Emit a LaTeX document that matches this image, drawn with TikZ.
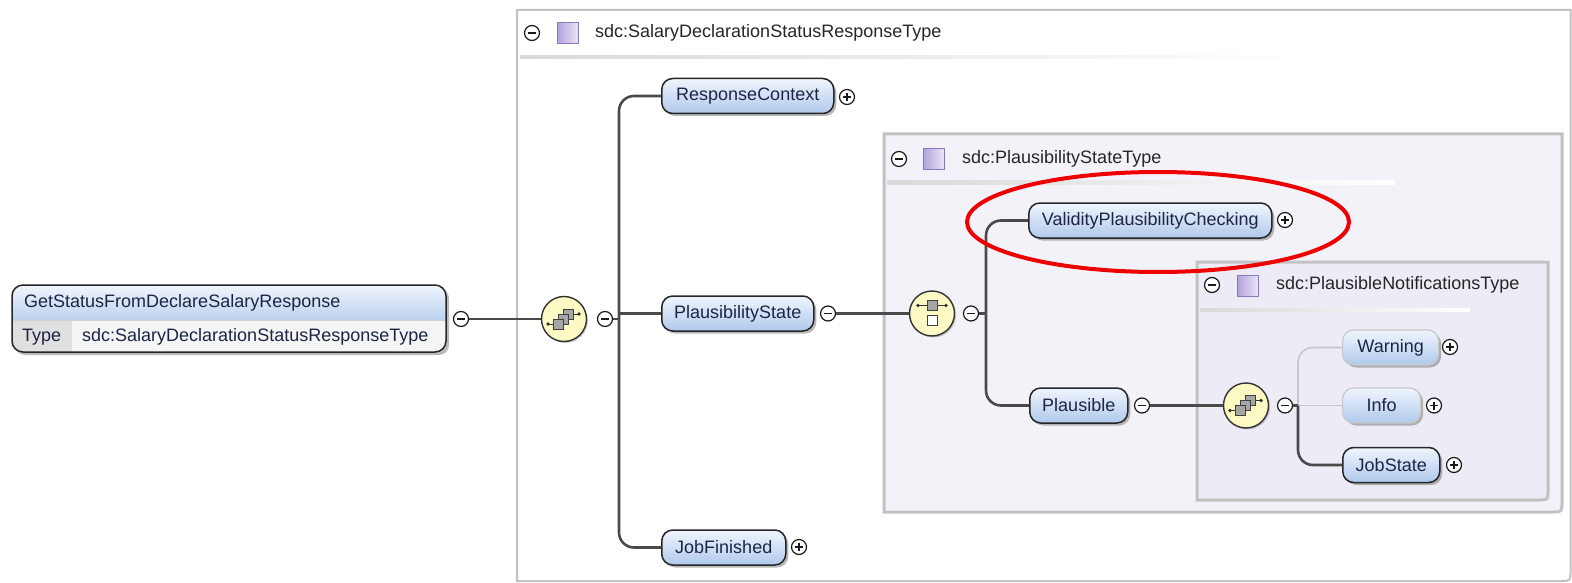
\documentclass[tikz,border=0pt]{standalone}
\usepackage{fontspec}
\setmainfont{Liberation Sans}
\usetikzlibrary{shadows}
\definecolor{boxA}{HTML}{F0F5FD}
\definecolor{boxB}{HTML}{B0C9EC}
\definecolor{txt}{HTML}{1E2544}
\definecolor{lnk}{HTML}{4A4A4A}
\definecolor{opt}{HTML}{C8C8C8}
\definecolor{midfill}{HTML}{F4F2F9}
\definecolor{infill}{HTML}{EDEBF5}
\definecolor{frame}{HTML}{C2C2C2}
\definecolor{seqfill}{HTML}{FCF9C4}
\definecolor{purA}{HTML}{EAE4F8}
\definecolor{purB}{HTML}{B2A2DA}
\definecolor{purD}{HTML}{8A78BE}
\definecolor{ring}{HTML}{EE0000}
\tikzset{
  lbl/.style={font=\fontsize{18}{21}\selectfont, text=txt, inner sep=0pt},
  elem/.style={lbl, rounded corners=11pt, draw=black!85, line width=1.5pt,
    top color=boxA, bottom color=boxB, minimum height=35pt,
    drop shadow={shadow xshift=2.5pt, shadow yshift=-2.5pt, fill=black!55, opacity=0.5}},
  optelem/.style={elem, draw=opt, line width=1.2pt},
  pm/.style={circle, draw=black!90, fill=white, line width=1.2pt, minimum size=15pt, inner sep=0pt},
  minusc/.style={pm, path picture={\draw[line width=1.2pt]
      ([xshift=-4pt]path picture bounding box.center) -- ([xshift=4pt]path picture bounding box.center);}},
  plusc/.style={pm, path picture={\draw[line width=1.2pt]
      ([xshift=-4pt]path picture bounding box.center) -- ([xshift=4pt]path picture bounding box.center);
      \draw[line width=1.2pt]
      ([yshift=-4pt]path picture bounding box.center) -- ([yshift=4pt]path picture bounding box.center);}},
  grp/.style={circle, draw=black!80, fill=seqfill, line width=1.4pt, minimum size=45pt, inner sep=0pt,
    drop shadow={shadow xshift=1.5pt, shadow yshift=-1.5pt, fill=black!50, opacity=0.4}},
  conn/.style={draw=lnk, line width=2.6pt, rounded corners=15pt},
  optconn/.style={draw=opt, line width=1.6pt, rounded corners=15pt},
  frm/.style={draw=frame, line width=3pt},
  sq/.style={left color=purB, right color=purA, draw=purD, line width=1pt},
  sepline/.style={left color=black!15, right color=white, draw=none},
  seqglyph/.pic={
    \draw[line width=0.9pt, black!80] (-16,5) -- (-10,5);
    \fill[black!80] (-16,5) circle (1.8pt);
    \draw[line width=0.9pt, black!80] (9,-5) -- (15,-5);
    \fill[black!80] (15,-5) circle (1.8pt);
    \filldraw[fill=black!35, draw=black!75, line width=0.7pt] (-1,-10) rectangle (9,0);
    \filldraw[fill=black!35, draw=black!75, line width=0.7pt] (-6,-5) rectangle (4,5);
    \filldraw[fill=black!35, draw=black!75, line width=0.7pt] (-11,0) rectangle (-1,10);
  },
  choiceglyph/.pic={
    \draw[line width=0.9pt, black!80] (-14,-8) -- (14,-8);
    \fill[black!80] (-14,-8) circle (1.8pt);
    \fill[black!80] (14,-8) circle (1.8pt);
    \filldraw[fill=black!35, draw=black!75, line width=0.7pt] (-5,-13) rectangle (5,-3);
    \filldraw[fill=white, draw=black!75, line width=0.7pt] (-5,2) rectangle (5,12);
  }
}
\begin{document}
\begin{tikzpicture}[x=1pt,y=-1pt]
\useasboundingbox (0,0) rectangle (1572,583);
\fill[white] (0,0) rectangle (1572,583);

% frames
\draw[draw=frame, line width=2pt, fill=white]
  (517,10) -- (1570.5,10) -- (1570.5,571) .. controls (1570.5,581) .. (1560.5,581) -- (517,581) -- cycle;
\draw[frm, fill=midfill]
  (884,134) -- (1562,134) -- (1562,502) .. controls (1562,512) .. (1552,512) -- (884,512) -- cycle;
\draw[frm, fill=infill]
  (1197,262) -- (1548,262) -- (1548,490) .. controls (1548,500) .. (1538,500) -- (1197,500) -- cycle;

% headers
\node[minusc] (h1m) at (532,33) {};
\draw[sq] (557,23) rectangle (578,44);
\node[lbl, anchor=west, text=black!85] (h1) at (595,33) {sdc:SalaryDeclarationStatusResponseType};
\shade[sepline] (520,56) rectangle (1310,59);

\node[minusc] (h2m) at (899,159) {};
\draw[sq] (923,149) rectangle (944,170);
\node[lbl, anchor=west, text=black!85] (h2) at (962,159) {sdc:PlausibilityStateType};
\shade[sepline] (887,181) rectangle (1395,184);

\node[minusc] (h3m) at (1212,285) {};
\draw[sq] (1237,275) rectangle (1258,296);
\node[lbl, anchor=west, text=black!85] (h3) at (1276,285) {sdc:PlausibleNotificationsType};
\shade[sepline] (1200,308) rectangle (1470,311);

% root element
\fill[black!45, opacity=0.6, rounded corners=10pt] (15,288) rectangle (449,355);
\begin{scope}
  \clip[rounded corners=11pt] (12,285) rectangle (446,352);
  \shade[top color=boxA, bottom color=boxB!85] (12,285) rectangle (446,320);
  \fill[black!4] (12,320) rectangle (446,352);
  \fill[black!12] (12,320) rectangle (72,352);
\end{scope}
\draw[black!18, line width=0.8pt] (12,320) -- (446,320);
\draw[black!85, line width=1.5pt, rounded corners=11pt] (12,285) rectangle (446,352);
\node[lbl, anchor=west] (root) at (24,303) {GetStatusFromDeclareSalaryResponse};
\node[lbl, anchor=west] (rtype) at (22,337) {Type};
\node[lbl, anchor=west] (rtval) at (82,337) {sdc:SalaryDeclarationStatusResponseType};
\node[minusc] (rm) at (461,319) {};

% level 1
\node[grp] (s1) at (564,319) {};
\pic at (s1) {seqglyph};
\node[minusc] (s1m) at (605,319) {};
\coordinate (b1) at (619,319);

\node[elem, anchor=west, minimum width=172pt] (rc) at (661,96) {ResponseContext};
\node[plusc] (rcp) at (847,97) {};
\node[elem, anchor=west, minimum width=152pt] (ps) at (661,313.5) {PlausibilityState};
\node[minusc] (psm) at (828,313.5) {};
\node[elem, anchor=west, minimum width=124pt] (jf) at (661,547.5) {JobFinished};
\node[plusc] (jfp) at (799,547) {};

% level 2
\node[grp] (c1) at (932,313.5) {};
\pic at (c1) {choiceglyph};
\node[minusc] (c1m) at (971,313.5) {};
\coordinate (b2) at (986,313.5);

\node[elem, anchor=west, minimum width=243pt] (vpc) at (1028,220.5) {ValidityPlausibilityChecking};
\node[plusc] (vpcp) at (1285,220) {};
\node[elem, anchor=west, minimum width=98pt] (pl) at (1029,405.5) {Plausible};
\node[minusc] (plm) at (1142,405.5) {};

% level 3
\node[grp] (s2) at (1246,405.5) {};
\pic at (s2) {seqglyph};
\node[minusc] (s2m) at (1285,405.5) {};
\coordinate (b3) at (1298,405.5);

\node[optelem, anchor=west, minimum width=96pt] (wa) at (1342,347.5) {Warning};
\node[plusc] (wap) at (1450,347) {};
\node[optelem, anchor=west, minimum width=78pt] (inf) at (1342,405.5) {Info};
\node[plusc] (infp) at (1434,405.5) {};
\node[elem, anchor=west, minimum width=97pt] (js) at (1342,465) {JobState};
\node[plusc] (jsp) at (1454,465) {};

% connectors
\draw[conn] (rm.east) -- (s1.west);
\draw[conn] (s1m.east) -- (b1);
\draw[conn] (rc.west) -| (b1);
\draw[conn] (jf.west) -| (b1);
\draw[conn] (ps.west) -- (ps.west -| b1);
\draw[conn] (psm.east) -- (c1.west);
\draw[conn] (c1m.east) -- (b2);
\draw[conn] (vpc.west) -| (b2);
\draw[conn] (pl.west) -| (b2);
\draw[conn] (plm.east) -- (s2.west);
\draw[optconn] (wa.west) -| (b3);
\draw[optconn] (inf.west) -- (inf.west -| b3);
\draw[conn] (s2m.east) -- (b3);
\draw[conn] (js.west) -| (b3);

% highlight
\draw[ring, line width=4pt] (1158,222) ellipse [x radius=191pt, y radius=50pt];
\end{tikzpicture}
\end{document}
